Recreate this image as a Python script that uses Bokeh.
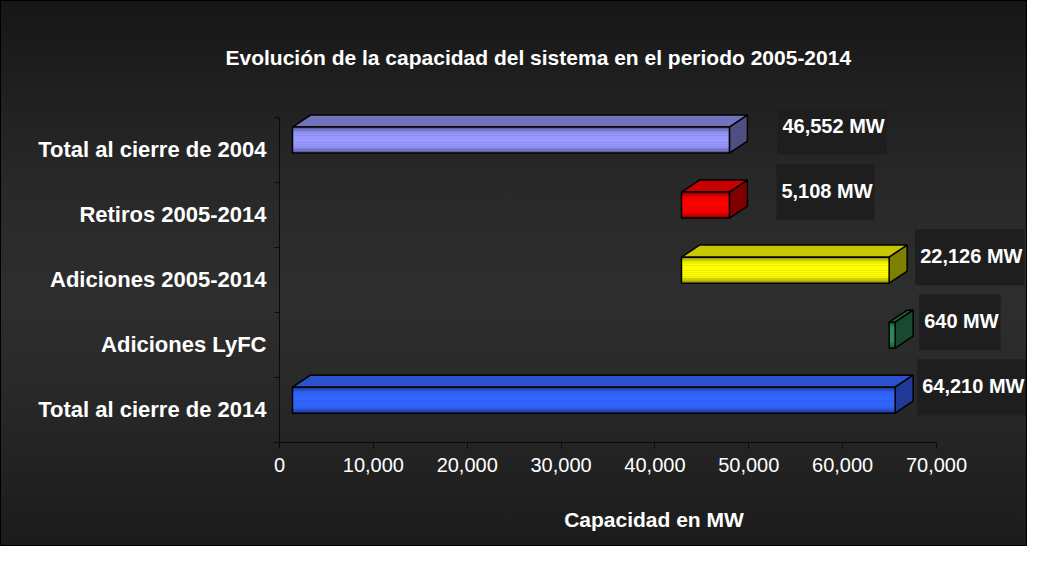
import math
from bokeh.plotting import figure
from bokeh.models import Range1d, FixedTicker, NumeralTickFormatter
from bokeh.embed import file_html
from bokeh.resources import INLINE
from bokeh.core.properties import value

# ---------------- data ----------------
categories = ["Total al cierre de 2004", "Retiros 2005-2014", "Adiciones 2005-2014",
              "Adiciones LyFC", "Total al cierre de 2014"]
changes = [46552, -5108, 22126, 640, 64210]
is_total = [True, False, False, False, True]
x_ticks = [0, 10000, 20000, 30000, 40000, 50000, 60000, 70000]
title_text = "Evolución de la capacidad del sistema en el periodo 2005-2014"
x_title = "Capacidad en MW"

# ---------------- styles ----------------
front_colors = [(153, 153, 255), (255, 0, 0), (255, 255, 0), (46, 140, 90), (51, 102, 255)]
top_colors = ["#7272bd", "#c80000", "#c8c800", "#1f6440", "#2a52cc"]
side_colors = ["#4e4e82", "#800000", "#808000", "#174a30", "#1f3a96"]
label_gap_px = [30, 29, 8, 6, 4]
FONT = "Liberation Sans"

# waterfall geometry from data
starts, ends = [], []
running = 0
for v, tot in zip(changes, is_total):
    if tot:
        s, e = 0, v
        running = v
    else:
        if v >= 0:
            s, e = running, running + v
        else:
            s, e = running + v, running
        running += v
    starts.append(s)
    ends.append(e)
labels = [f"{abs(v):,} MW" for v in changes]

W, H = 1027, 546
LEFT, TOP, BOTTOM = 278, 108, 105
px_per_unit_x = 657 / 70000.0
off = 13 / px_per_unit_x        # front-face shift
dx = 18 / px_per_unit_x         # depth x
dy = 0.185                      # depth y (category units)

p = figure(width=W, height=H, output_backend="svg", toolbar_location=None,
           x_range=Range1d(0, (W - LEFT) / px_per_unit_x), y_range=Range1d(5, -0.12),
           min_border_left=LEFT, min_border_right=0, min_border_top=TOP, min_border_bottom=BOTTOM,
           title=title_text)
p.background_fill_alpha = 0
p.border_fill_alpha = 0
p.outline_line_color = None
p.grid.visible = False
p.styles = {"background": "linear-gradient(to bottom, #161616 0%, #1d1d1d 12%, #282828 33%, "
                          "#2e2e2e 55%, #272727 75%, #1b1b1b 100%)",
            "border": "1px solid #000000"}

# title
p.title.text_color = "white"
p.title.text_font = FONT
p.title.text_font_size = "21px"
p.title.text_font_style = "bold"
p.title.align = "left"
p.title.offset = -54
p.title.standoff = 81

# bars
for i in range(len(categories)):
    c = i + 0.5
    yt, yb = c - 0.35, c + 0.05
    x0, x1 = starts[i] + off, ends[i] + off
    p.patch([x0, x1, x1 + dx, x0 + dx], [yt, yt, yt - dy, yt - dy],
            fill_color=top_colors[i], line_color="black", line_width=1.5)
    p.patch([x1, x1 + dx, x1 + dx, x1], [yt, yt - dy, yb - dy, yb],
            fill_color=side_colors[i], line_color="black", line_width=1.5)
    n = 12
    r, g, b = front_colors[i]
    for k in range(n):
        t = (k + 0.5) / n
        f = 0.55 + 0.45 * min(1.0, math.sin(math.pi * t) * 1.5)
        col = "#%02x%02x%02x" % (int(r * f), int(g * f), int(b * f))
        p.quad(left=x0, right=x1, top=yt + (yb - yt) * k / n, bottom=yt + (yb - yt) * (k + 1) / n,
               fill_color=col, line_color=col, line_width=0.5)
    p.quad(left=x0, right=x1, top=yt, bottom=yb, fill_color=None, line_color="black", line_width=1.5)

# value labels
lx = [e + off + dx for e in ends]
ly = [i + 0.5 - 0.35 for i in range(len(categories))]
p.text(x=lx, y=ly, text=labels, x_offset=label_gap_px,
       text_color="white", text_font=value(FONT), text_font_style="bold",
       text_font_size="20px", text_baseline="middle", text_align="left",
       background_fill_color="#1e1e1e", padding=dict(left=5, right=2, top=16, bottom=18))

# x axis
xa = p.xaxis[0]
xa.ticker = FixedTicker(ticks=x_ticks)
xa.formatter = NumeralTickFormatter(format="0,0")
xa.bounds = (0, 70000)
xa.axis_line_color = "#0a0a0a"
xa.major_tick_line_color = "#0a0a0a"
xa.minor_tick_line_color = None
xa.major_tick_out = 6
xa.major_tick_in = 0
xa.major_label_text_color = "white"
xa.major_label_text_font = FONT
xa.major_label_text_font_size = "20px"
xa.major_label_standoff = 9
xa.axis_label = x_title
xa.axis_label_text_color = "white"
xa.axis_label_text_font = FONT
xa.axis_label_text_font_size = "21px"
xa.axis_label_text_font_style = "bold"
xa.axis_label_standoff = 33

# y axis
ya = p.yaxis[0]
ya.ticker = FixedTicker(ticks=[i + 0.5 for i in range(len(categories))],
                        minor_ticks=[float(i) for i in range(len(categories) + 1)])
ya.major_label_overrides = {i + 0.5: cat for i, cat in enumerate(categories)}
ya.bounds = (0, 5)
ya.axis_line_color = "#0a0a0a"
ya.major_tick_line_color = None
ya.major_tick_out = 0
ya.major_tick_in = 0
ya.minor_tick_line_color = "#0a0a0a"
ya.minor_tick_out = 5
ya.minor_tick_in = 0
ya.major_label_text_color = "white"
ya.major_label_text_font = FONT
ya.major_label_text_font_size = "22px"
ya.major_label_text_font_style = "bold"
ya.major_label_standoff = 8

open("out.html", "w").write(file_html(p, INLINE))
